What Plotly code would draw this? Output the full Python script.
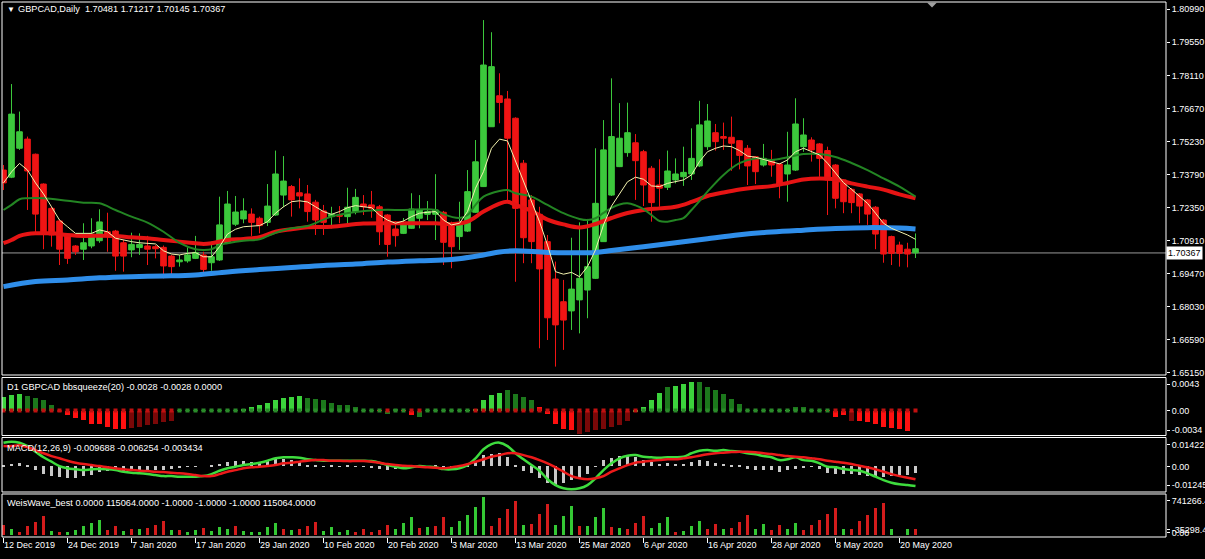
import plotly.graph_objects as go

# ---------------- data ----------------
date_tick_bars = [0, 8, 16, 24, 32, 40, 48, 56, 64, 72, 80, 88, 96, 104, 112]
date_labels = ["12 Dec 2019", "24 Dec 2019", "7 Jan 2020", "17 Jan 2020", "29 Jan 2020",
               "10 Feb 2020", "20 Feb 2020", "3 Mar 2020", "13 Mar 2020", "25 Mar 2020",
               "6 Apr 2020", "16 Apr 2020", "28 Apr 2020", "8 May 2020", "20 May 2020"]

opens = [1.7398, 1.7367, 1.7493, 1.7533, 1.7467, 1.7337, 1.7231, 1.7176, 1.7111, 1.7067,
         1.7053, 1.7067, 1.7090, 1.7129, 1.7132, 1.7081, 1.7050, 1.7060, 1.7067, 1.7064,
         1.7061, 1.7023, 1.6998, 1.7002, 1.7013, 1.7028, 1.6994, 1.7006, 1.7081, 1.7162,
         1.7185, 1.7206, 1.7188, 1.7170, 1.7202, 1.7289, 1.7326, 1.7299, 1.7294, 1.7258,
         1.7220, 1.7195, 1.7202, 1.7195, 1.7217, 1.7250, 1.7246, 1.7238, 1.7202, 1.7141,
         1.7122, 1.7144, 1.7188, 1.7205, 1.7205, 1.7214, 1.7159, 1.7108, 1.7132, 1.7214,
         1.7326, 1.7587, 1.7722, 1.7708, 1.7624, 1.7428, 1.7268, 1.7205, 1.7086, 1.6923,
         1.6824, 1.6784, 1.6832, 1.6875, 1.6926, 1.7086, 1.7289, 1.7413, 1.7474, 1.7517,
         1.7478, 1.7406, 1.7333, 1.7323, 1.7355, 1.7369, 1.7381, 1.7416, 1.7500, 1.7561,
         1.7544, 1.7541, 1.7526, 1.7493, 1.7456, 1.7420, 1.7442, 1.7424, 1.7381, 1.7398,
         1.7500, 1.7529, 1.7512, 1.7483, 1.7420, 1.7355, 1.7314, 1.7294, 1.7268, 1.7236,
         1.7180, 1.7108, 1.7071, 1.7053, 1.7037]
highs = [1.7420, 1.7773, 1.7653, 1.7544, 1.7470, 1.7340, 1.7238, 1.7183, 1.7122, 1.7071,
         1.7166, 1.7188, 1.7227, 1.7212, 1.7137, 1.7093, 1.7125, 1.7122, 1.7111, 1.7071,
         1.7069, 1.7028, 1.7028, 1.7061, 1.7111, 1.7042, 1.7086, 1.7282, 1.7307, 1.7285,
         1.7275, 1.7231, 1.7195, 1.7337, 1.7483, 1.7459, 1.7333, 1.7362, 1.7333, 1.7268,
         1.7246, 1.7238, 1.7241, 1.7321, 1.7316, 1.7289, 1.7307, 1.7246, 1.7206, 1.7176,
         1.7189, 1.7297, 1.7289, 1.7263, 1.7380, 1.7220, 1.7173, 1.7260, 1.7398, 1.7529,
         1.8052, 1.7999, 1.7820, 1.7743, 1.7628, 1.7442, 1.7289, 1.7238, 1.7115, 1.6999,
         1.6919, 1.7103, 1.7170, 1.7185, 1.7493, 1.7616, 1.7798, 1.7690, 1.7692, 1.7555,
         1.7486, 1.7416, 1.7445, 1.7483, 1.7449, 1.7500, 1.7580, 1.7700, 1.7686, 1.7599,
         1.7605, 1.7631, 1.7529, 1.7507, 1.7459, 1.7512, 1.7486, 1.7429, 1.7565, 1.7711,
         1.7624, 1.7541, 1.7516, 1.7500, 1.7424, 1.7359, 1.7320, 1.7298, 1.7272, 1.7241,
         1.7185, 1.7112, 1.7086, 1.7081, 1.71217]
lows = [1.7311, 1.7363, 1.7486, 1.7224, 1.7122, 1.7053, 1.7064, 1.6984, 1.6989, 1.7028,
        1.7006, 1.7057, 1.7081, 1.7042, 1.6959, 1.6955, 1.7018, 1.7028, 1.6984, 1.7013,
        1.6926, 1.6930, 1.6977, 1.6994, 1.7010, 1.6948, 1.6959, 1.7002, 1.7080, 1.7154,
        1.7166, 1.7111, 1.7122, 1.7154, 1.7198, 1.7236, 1.7195, 1.7231, 1.7173, 1.7115,
        1.7115, 1.7144, 1.7166, 1.7156, 1.7205, 1.7202, 1.7190, 1.7071, 1.7020, 1.7064,
        1.7119, 1.7141, 1.7144, 1.7180, 1.7093, 1.6984, 1.6970, 1.7050, 1.7128, 1.7211,
        1.7324, 1.7586, 1.7602, 1.7260, 1.6911, 1.6992, 1.6992, 1.6621, 1.6657, 1.6541,
        1.6614, 1.6701, 1.6686, 1.6752, 1.6923, 1.7085, 1.7285, 1.7411, 1.7456, 1.7268,
        1.7241, 1.7173, 1.7238, 1.7311, 1.7340, 1.7329, 1.7355, 1.7411, 1.7486, 1.7483,
        1.7486, 1.7395, 1.7401, 1.7333, 1.7337, 1.7413, 1.7369, 1.7275, 1.7260, 1.7394,
        1.7478, 1.7435, 1.7369, 1.7202, 1.7231, 1.7210, 1.7210, 1.7166, 1.7159, 1.7053,
        1.6994, 1.6984, 1.6977, 1.6974, 1.70145]
closes = [1.7342, 1.7642, 1.7565, 1.7394, 1.7206, 1.7122, 1.7115, 1.7053, 1.7013, 1.7042,
          1.7081, 1.7119, 1.7172, 1.7115, 1.7023, 1.7023, 1.7074, 1.7074, 1.7053, 1.7055,
          1.6980, 1.6977, 1.7006, 1.7028, 1.7039, 1.6965, 1.7020, 1.7159, 1.7250, 1.7215,
          1.7220, 1.7170, 1.7156, 1.7241, 1.7381, 1.7350, 1.7268, 1.7285, 1.7217, 1.7180,
          1.7170, 1.7205, 1.7197, 1.7236, 1.7279, 1.7238, 1.7231, 1.7129, 1.7074, 1.7112,
          1.7166, 1.7228, 1.7224, 1.7217, 1.7224, 1.7083, 1.7064, 1.7166, 1.7304, 1.7434,
          1.7856, 1.7849, 1.7693, 1.7537, 1.7231, 1.7103, 1.7086, 1.6967, 1.6754, 1.6723,
          1.6744, 1.6879, 1.6926, 1.6977, 1.7253, 1.7486, 1.7544, 1.7537, 1.7561, 1.7439,
          1.7333, 1.7256, 1.7319, 1.7394, 1.7381, 1.7388, 1.7449, 1.7595, 1.7612, 1.7522,
          1.7537, 1.7515, 1.7462, 1.7416, 1.7391, 1.7449, 1.7420, 1.7337, 1.7420, 1.7599,
          1.7551, 1.7486, 1.7449, 1.7355, 1.7275, 1.7260, 1.7256, 1.7241, 1.7206, 1.7119,
          1.7032, 1.7035, 1.7035, 1.7032, 1.7055]
last_price = 1.70367

ma_fast = [1.7342, 1.7390, 1.7427, 1.7398, 1.7342, 1.7294, 1.7238, 1.7180, 1.7151, 1.7122,
           1.7122, 1.7122, 1.7137, 1.7129, 1.7101, 1.7093, 1.7086, 1.7081, 1.7079, 1.7076,
           1.7046, 1.7032, 1.7028, 1.7035, 1.7038, 1.7020, 1.7020, 1.7064, 1.7119, 1.7140,
           1.7151, 1.7154, 1.7156, 1.7173, 1.7210, 1.7238, 1.7260, 1.7264, 1.7259, 1.7238,
           1.7217, 1.7205, 1.7217, 1.7234, 1.7243, 1.7238, 1.7234, 1.7202, 1.7180, 1.7166,
           1.7176, 1.7195, 1.7210, 1.7214, 1.7217, 1.7180, 1.7159, 1.7166, 1.7217, 1.7319,
           1.7391, 1.7493, 1.7533, 1.7525, 1.7435, 1.7347, 1.7260, 1.7173, 1.7071, 1.6955,
           1.6944, 1.6952, 1.6933, 1.6977, 1.7050, 1.7159, 1.7241, 1.7297, 1.7347, 1.7367,
           1.7358, 1.7329, 1.7326, 1.7340, 1.7347, 1.7355, 1.7377, 1.7435, 1.7478, 1.7493,
           1.7503, 1.7500, 1.7483, 1.7459, 1.7454, 1.7445, 1.7435, 1.7425, 1.7442, 1.7478,
           1.7493, 1.7478, 1.7464, 1.7428, 1.7384, 1.7343, 1.7314, 1.7282, 1.7253, 1.7210,
           1.7166, 1.7144, 1.7129, 1.7115, 1.7096]

ma_mid_bars = [0, 1, 2, 3, 5, 8, 10, 12, 14, 16, 18, 20, 22, 24, 25, 26, 27, 28, 30, 32,
               34, 36, 38, 41, 44, 47, 50, 54, 55, 57, 58, 59, 60, 62, 63, 64, 66, 68, 70, 72,
               73, 74, 75, 76, 77, 78, 79, 80, 81, 82, 83, 84, 85, 86, 87, 88, 90, 92, 94, 96,
               98, 100, 102, 104, 106, 108, 110, 112, 114]
ma_mid = [1.7224, 1.7246, 1.7271, 1.7275, 1.7275, 1.7264, 1.7256, 1.7253, 1.7224, 1.7195,
          1.7169, 1.7129, 1.7081, 1.7053, 1.7050, 1.7053, 1.7071, 1.7079, 1.7090, 1.7096,
          1.7125, 1.7144, 1.7154, 1.7195, 1.7215, 1.7224, 1.7224, 1.7224, 1.7206, 1.7189,
          1.7202, 1.7246, 1.7282, 1.7307, 1.7311, 1.7297, 1.7282, 1.7246, 1.7210, 1.7185,
          1.7180, 1.7188, 1.7211, 1.7233, 1.7248, 1.7253, 1.7244, 1.7228, 1.7202, 1.7176,
          1.7173, 1.7180, 1.7189, 1.7224, 1.7263, 1.7304, 1.7377, 1.7428, 1.7449, 1.7442,
          1.7454, 1.7468, 1.7468, 1.7455, 1.7429, 1.7398, 1.7362, 1.7326, 1.7282]

ma_slow_bars = [0, 1, 2, 3, 4, 6, 8, 10, 12, 14, 16, 18, 20, 22, 24, 25, 26, 28, 30, 32,
                34, 36, 38, 41, 45, 50, 54, 56, 58, 60, 62, 63, 64, 66, 68, 70, 72, 74, 76, 78,
                80, 82, 84, 86, 88, 90, 92, 94, 96, 98, 100, 102, 104, 106, 108, 110, 112, 114]
ma_slow = [1.7079, 1.7093, 1.7111, 1.7119, 1.7122, 1.7122, 1.7115, 1.7111, 1.7112, 1.7111,
           1.7105, 1.7101, 1.7093, 1.7086, 1.7079, 1.7076, 1.7079, 1.7093, 1.7098, 1.7105,
           1.7129, 1.7140, 1.7149, 1.7151, 1.7165, 1.7166, 1.7166, 1.7162, 1.7173, 1.7217,
           1.7252, 1.7260, 1.7246, 1.7220, 1.7182, 1.7161, 1.7148, 1.7163, 1.7189, 1.7211,
           1.7224, 1.7231, 1.7238, 1.7259, 1.7285, 1.7300, 1.7313, 1.7322, 1.7328, 1.7342,
           1.7357, 1.7361, 1.7357, 1.7340, 1.7326, 1.7313, 1.7292, 1.7275]

ma_long_bars = [0, 4, 8, 12, 16, 20, 24, 28, 32, 36, 40, 44, 48, 52, 56, 60, 62, 64, 68, 72,
                74, 76, 80, 84, 88, 92, 96, 100, 104, 108, 112, 114]
ma_long = [1.6890, 1.6912, 1.6919, 1.6928, 1.6933, 1.6936, 1.6941, 1.6954, 1.6964, 1.6973,
           1.6982, 1.6988, 1.6997, 1.7003, 1.7008, 1.7028, 1.7041, 1.7046, 1.7039, 1.7038,
           1.7039, 1.7047, 1.7064, 1.7081, 1.7099, 1.7116, 1.7128, 1.7136, 1.7143, 1.7147,
           1.7145, 1.7141]

# bbsqueeze histogram: value and shade (G bright green, g dark green, R bright red, r dark red)
bbsq = [0.0019, 0.0022, 0.00225, 0.0020, 0.0018, 0.00144, 0.00077, -0.0001, -0.00059, -0.0009,
        -0.00126, -0.0017, -0.0018, -0.0021, -0.0024, -0.0024, -0.00225, -0.0022, -0.0019, -0.0017,
        -0.0015, -0.0013, 0.0001, 0.0001, 0.00005, 0.0001, 0.0001, 0.0001, 0.0001, 0.0001,
        0.0002, 0.0006, 0.00085, 0.0011, 0.0015, 0.00175, 0.0019, 0.0020, 0.0018, 0.00167,
        0.00144, 0.0011, 0.00085, 0.00077, 0.00054, 0.0001, 0.0001, 0.0001, -0.00036, 0.0002,
        0.0001, -0.0006, -0.0008, 0.0001, 0.0001, 0.0001, 0.0001, 0.0001, 0.0001, 0.0002,
        0.00144, 0.0021, 0.0025, 0.0028, 0.00225, 0.0019, 0.0015, 0.0006, -0.00045, -0.0017,
        -0.0024, -0.0026, -0.0031, -0.0028, -0.0026, -0.0024, -0.0022, -0.0019, -0.0013, -0.0001,
        0.00054, 0.0015, 0.0024, 0.0033, 0.0034, 0.0037, 0.0039, 0.0039, 0.0033, 0.0028,
        0.00225, 0.00167, 0.0009, 0.0001, 0.0001, 0.0001, 0.0001, 0.0001, 0.0001, 0.00054,
        0.00054, 0.0001, 0.0001, 0.0001, -0.0008, -0.0006, -0.0013, -0.0013, -0.0015, -0.0017,
        -0.0021, -0.00225, -0.0024, -0.0027, -0.0029]
bbsq_shade = ("GGGggggr" + "RRRRRRRR" + "rrrrrr" + "gggggggg" + "GGGGGGGG" + "ggggggggg" + "R" + "g"
              + "g" + "RR" + "gggggg" + "GGGGG" + "gggg" + "RRRRR" + "rrrrrrr"
              + "GGGGgGGG" + "ggggg" + "gggggg" + "G" + "g" + "ggg" + "RR" + "R" + "r" + "RRRRRRR")
bbsq_dot = ("rrrrrrrrrrrrrrrrrrrrrr" + "gggggggggggggggggggggggggg" + "r" + "gg" + "rr" + "gggggg"
            + "rrrrrrrrrrrrrrrrrrrrr" + "gggggggggggggggggggggggg" + "rrrrrrrrrrr")

macd_hist = [0.0008, 0.0013, 0.0017, 0.0002, -0.0017, -0.0037, -0.0050, -0.0053, -0.0058, -0.0058,
             -0.0047, -0.0042, -0.0030, -0.0025, -0.0025, -0.0022, -0.0020, -0.0020, -0.0017, -0.0017,
             -0.0017, -0.0013, -0.0010, -0.0003, -0.0002, 0.0000, 0.0002, 0.0013, 0.0022, 0.0025,
             0.0025, 0.0023, 0.0023, 0.0030, 0.0037, 0.0038, 0.0033, 0.0020, 0.0003, 0.0002,
             -0.0002, 0.0003, -0.0003, 0.0002, -0.0003, -0.0002, -0.0005, -0.0013, -0.0017, -0.0013,
             -0.0013, -0.0010, -0.0008, -0.0003, 0.0002, -0.0003, -0.0013, -0.0003, 0.0003, 0.0025,
             0.0058, 0.0063, 0.0067, 0.0047, 0.0002, -0.0025, -0.0033, -0.0058, -0.0083, -0.0097,
             -0.0083, -0.0070, -0.0058, -0.0037, -0.0002, 0.0033, 0.0042, 0.0053, 0.0058, 0.0047,
             0.0030, 0.0020, 0.0012, 0.0017, 0.0013, 0.0010, 0.0020, 0.0030, 0.0025, 0.0017,
             0.0013, 0.0008, 0.0002, -0.0012, -0.0017, -0.0017, -0.0017, -0.0030, -0.0020, -0.0013,
             -0.0005, -0.0003, -0.0013, -0.0033, -0.0037, -0.0037, -0.0037, -0.0042, -0.0047, -0.0050,
             -0.0053, -0.0047, -0.0042, -0.0042, -0.0034]
macd_main = [0.0120, 0.0125, 0.0120, 0.0103, 0.0075, 0.0047, 0.0025, 0.0003, -0.0008, -0.0013,
             -0.0017, -0.0013, -0.0012, -0.0013, -0.0017, -0.0025, -0.0030, -0.0033, -0.0037, -0.0042,
             -0.0047, -0.0047, -0.0050, -0.0050, -0.0050, -0.0047, -0.0037, -0.0020, -0.0008, 0.0000,
             0.0008, 0.0013, 0.0020, 0.0030, 0.0042, 0.0047, 0.0047, 0.0045, 0.0037, 0.0033,
             0.0030, 0.0030, 0.0030, 0.0030, 0.0030, 0.0030, 0.0028, 0.0020, 0.0008, 0.0000,
             -0.0008, -0.0003, 0.0003, 0.0000, -0.0003, -0.0012, -0.0013, -0.0008, 0.0008, 0.0042,
             0.0087, 0.0113, 0.0120, 0.0103, 0.0067, 0.0037, 0.0008, -0.0020, -0.0063, -0.0092,
             -0.0108, -0.0113, -0.0108, -0.0092, -0.0058, -0.0017, 0.0017, 0.0042, 0.0055, 0.0058,
             0.0050, 0.0047, 0.0045, 0.0047, 0.0047, 0.0050, 0.0067, 0.0080, 0.0083, 0.0080,
             0.0083, 0.0078, 0.0075, 0.0067, 0.0062, 0.0053, 0.0047, 0.0033, 0.0037, 0.0047,
             0.0033, 0.0030, 0.0017, 0.0000, -0.0003, -0.0012, -0.0017, -0.0020, -0.0033, -0.0050,
             -0.0067, -0.0080, -0.0088, -0.0092, -0.0097]
macd_signal = [0.0103, 0.0103, 0.0107, 0.0097, 0.0083, 0.0067, 0.0053, 0.0042, 0.0030, 0.0020,
               0.0013, 0.0008, 0.0003, -0.0003, -0.0008, -0.0013, -0.0017, -0.0020, -0.0022, -0.0025,
               -0.0027, -0.0030, -0.0033, -0.0037, -0.0042, -0.0047, -0.0047, -0.0037, -0.0025, -0.0017,
               -0.0008, -0.0003, 0.0000, 0.0003, 0.0008, 0.0017, 0.0020, 0.0025, 0.0030, 0.0033,
               0.0033, 0.0030, 0.0030, 0.0028, 0.0028, 0.0028, 0.0025, 0.0020, 0.0013, 0.0008,
               0.0005, 0.0003, 0.0000, -0.0003, -0.0005, -0.0008, -0.0003, 0.0003, 0.0013, 0.0025,
               0.0037, 0.0050, 0.0058, 0.0067, 0.0067, 0.0058, 0.0047, 0.0033, 0.0017, -0.0003,
               -0.0025, -0.0047, -0.0058, -0.0063, -0.0058, -0.0047, -0.0025, -0.0008, 0.0008, 0.0020,
               0.0025, 0.0030, 0.0033, 0.0037, 0.0037, 0.0042, 0.0047, 0.0055, 0.0062, 0.0067,
               0.0070, 0.0073, 0.0075, 0.0075, 0.0072, 0.0067, 0.0063, 0.0058, 0.0053, 0.0050,
               0.0047, 0.0042, 0.0037, 0.0030, 0.0025, 0.0020, 0.0013, 0.0005, -0.0003, -0.0013,
               -0.0025, -0.0037, -0.0047, -0.0055, -0.0063]

weis = [180000, 102000, 60000, 162000, 240000, 342000, 78000, 60000, 60000, 90000,
        162000, 210000, 270000, 90000, 162000, 72000, 102000, 102000, 120000, 180000,
        258000, 90000, 90000, 60000, 90000, 120000, 78000, 150000, 102000, 162000,
        72000, 60000, 60000, 150000, 222000, 102000, 90000, 102000, 162000, 228000,
        72000, 138000, 60000, 90000, 60000, 102000, 60000, 90000, 180000, 102000,
        222000, 330000, 132000, 150000, 162000, 318000, 150000, 258000, 360000, 510000,
        690000, 162000, 312000, 462000, 618000, 180000, 192000, 372000, 552000, 180000,
        342000, 522000, 162000, 162000, 330000, 480000, 150000, 120000, 114000, 222000,
        342000, 120000, 222000, 330000, 48000, 66000, 162000, 252000, 108000, 198000,
        102000, 120000, 240000, 360000, 102000, 198000, 90000, 180000, 102000, 222000,
        90000, 180000, 270000, 378000, 480000, 102000, 102000, 252000, 360000, 492000,
        582000, 102000, 0, 102000, 115064]
weis_dir = ("RGRRRRGRGGGGGRRGRGRRRGRGGRGGGRGGGGGRGRRRGGGGRRRRRG"
            "GGRGRRGGGGGRRRRGRRRGGGRGGGRGRRRGGGRGGGRRGRRRGGRRGG"
            "RRRRRGRRRRRGRGR")

# ---------------- styling ----------------
BG = "#000000"
FG = "#FFFFFF"
UP = "#3CC83C"
DN = "#F01414"
FONT = "Liberation Sans, Arial, sans-serif"
shade_color = {"G": "#3CD23C", "g": "#1C781C", "R": "#FF1010", "r": "#7A0808"}
dot_color = {"g": "#2A8A2A", "r": "#C01010"}
weis_color = {"G": "#34C834", "R": "#D41C1C"}

n = len(opens)
bars = list(range(n))

fig = go.Figure()

# main pane
fig.add_trace(go.Candlestick(
    x=bars, open=opens, high=highs, low=lows, close=closes,
    xaxis="x", yaxis="y", whiskerwidth=0,
    increasing=dict(line=dict(color=UP, width=1), fillcolor=UP),
    decreasing=dict(line=dict(color=DN, width=1), fillcolor=DN),
    hoverinfo="skip", showlegend=False))
fig.add_trace(go.Scatter(x=ma_long_bars, y=ma_long, mode="lines", xaxis="x", yaxis="y",
                         line=dict(color="#2F8EEA", width=5, shape="spline"), hoverinfo="skip", showlegend=False))
fig.add_trace(go.Scatter(x=ma_slow_bars, y=ma_slow, mode="lines", xaxis="x", yaxis="y",
                         line=dict(color="#E61414", width=4, shape="spline"), hoverinfo="skip", showlegend=False))
fig.add_trace(go.Scatter(x=ma_mid_bars, y=ma_mid, mode="lines", xaxis="x", yaxis="y",
                         line=dict(color="#238523", width=2, shape="spline"), hoverinfo="skip", showlegend=False))
fig.add_trace(go.Scatter(x=bars, y=ma_fast, mode="lines", xaxis="x", yaxis="y",
                         line=dict(color="#F4F4B0", width=1), hoverinfo="skip", showlegend=False))

# bbsqueeze pane
fig.add_trace(go.Bar(x=bars, y=bbsq, xaxis="x2", yaxis="y2", width=0.6,
                     marker=dict(color=[shade_color[c] for c in bbsq_shade], line=dict(width=0)),
                     hoverinfo="skip", showlegend=False))
fig.add_trace(go.Scatter(x=bars, y=[0.0] * n, mode="markers", xaxis="x2", yaxis="y2",
                         marker=dict(symbol="square", size=4, color=[dot_color[c] for c in bbsq_dot]),
                         hoverinfo="skip", showlegend=False))

# MACD pane
fig.add_trace(go.Bar(x=bars, y=macd_hist, xaxis="x3", yaxis="y3", width=0.38,
                     marker=dict(color="#C8C8C8", line=dict(width=0)), hoverinfo="skip", showlegend=False))
fig.add_trace(go.Scatter(x=bars, y=macd_main, mode="lines", xaxis="x3", yaxis="y3",
                         line=dict(color="#3EDC3E", width=2.5, shape="spline"), hoverinfo="skip", showlegend=False))
fig.add_trace(go.Scatter(x=bars, y=macd_signal, mode="lines", xaxis="x3", yaxis="y3",
                         line=dict(color="#EC1A1A", width=2.5, shape="spline"), hoverinfo="skip", showlegend=False))

# WeisWave pane
fig.add_trace(go.Bar(x=bars, y=weis, xaxis="x4", yaxis="y4", width=0.4,
                     marker=dict(color=[weis_color[c] for c in weis_dir], line=dict(width=0)),
                     hoverinfo="skip", showlegend=False))

# ---------------- layout ----------------
XR = [-0.1875, 145.3125]
tickfont = dict(family=FONT, size=9, color=FG)
dom_main = [0.3028, 1.0]
dom_bbsq = [0.1897, 0.2981]
dom_macd = [0.0841, 0.1860]
dom_weis = [0.0, 0.0804]

def xax(anchor, show):
    d = dict(domain=[0, 1], range=XR, anchor=anchor, showgrid=False, zeroline=False,
             showline=False, fixedrange=True, automargin=False)
    if show:
        d.update(tickmode="array", tickvals=date_tick_bars, ticktext=date_labels,
                 ticks="outside", ticklen=5, tickcolor=FG, tickwidth=1,
                 ticklabelposition="outside right", ticklabelstandoff=-1,
                 tickfont=tickfont, showticklabels=True)
    else:
        d.update(showticklabels=False, ticks="")
    return d

def yax(domain, rng, vals, texts, anchor):
    return dict(domain=domain, range=rng, side="right", anchor=anchor, showgrid=False,
                zeroline=False, showline=False, tickmode="array", tickvals=vals, ticktext=texts,
                ticks="outside", ticklen=3, tickcolor=FG, tickwidth=1, tickfont=tickfont,
                ticklabelstandoff=0, fixedrange=True, automargin=False)

main_ticks = [1.8099, 1.7955, 1.7811, 1.7667, 1.7523, 1.7379, 1.7235, 1.7091,
              1.6947, 1.6803, 1.6659, 1.6515]

fig.update_layout(
    template="none",
    width=1205, height=559,
    paper_bgcolor=BG, plot_bgcolor=BG,
    margin=dict(l=2, r=39, t=2, b=22, autoexpand=False),
    showlegend=False,
    boxgap=0.3, boxgroupgap=0.0, bargap=0,
    xaxis=dict(xax("y", False), rangeslider=dict(visible=False)),
    xaxis2=xax("y2", False),
    xaxis3=xax("y3", False),
    xaxis4=xax("y4", True),
    yaxis=yax(dom_main, [1.65045, 1.81308], main_ticks, ["%.5f" % v for v in main_ticks], "x"),
    yaxis2=yax(dom_bbsq, [-0.00338, 0.00446], [0.00354, 0.0, -0.00264],
               ["0.0043", "0.00", "-0.0034"], "x2"),
    yaxis3=yax(dom_macd, [-0.01265, 0.0146], [0.01085, 0.0, -0.0093],
               ["0.01422", "0.00", "-0.01245"], "x3"),
    yaxis4=yax(dom_weis, [-36000, 738000], [612000, 90000, 36000],
               ["741266.4", "-35298.4", "0.00"], "x4"),
)

shapes = []
# current price line
shapes.append(dict(type="line", xref="paper", yref="y", x0=0, x1=1, y0=last_price, y1=last_price,
                   line=dict(color="#9A9A9A", width=1), layer="below"))
# pane frames
for dom in (dom_main, dom_bbsq, dom_macd, dom_weis):
    shapes.append(dict(type="rect", xref="paper", yref="paper", x0=0, x1=1, y0=dom[0], y1=dom[1],
                       line=dict(color=FG, width=1), fillcolor="rgba(0,0,0,0)", layer="above"))
# chart-shift marker
shapes.append(dict(type="path", xref="paper", yref="paper",
                   path="M 0.7947,0.9990 L 0.8032,0.9990 L 0.7990,0.9897 Z",
                   fillcolor="#A0A0A0", line=dict(color="#A0A0A0", width=0)))
fig.update_layout(shapes=shapes)

def note(text, x, y, size=9.2, color=FG, **kw):
    d = dict(text=text, xref="paper", yref="paper", x=x, y=y, xanchor="left", yanchor="middle",
             showarrow=False, font=dict(family=FONT, size=size, color=color))
    d.update(kw)
    return d

annotations = [
    note("▼", 0.0030, 0.9860, size=8),
    note("GBPCAD,Daily  1.70481 1.71217 1.70145 1.70367", 0.0120, 0.9860),
    note("D1 GBPCAD bbsqueeze(20) -0.0028 -0.0028 0.0000", 0.0030, 0.2809),
    note("MACD(12,26,9) -0.009688 -0.006254 -0.003434", 0.0030, 0.1669),
    note("WeisWave_best 0.0000 115064.0000 -1.0000 -1.0000 -1.0000 115064.0000", 0.0030, 0.0630),
    dict(text="1.70367", xref="paper", yref="y", x=1, y=last_price, xanchor="left", yanchor="middle",
         xshift=0, showarrow=False, bgcolor="#FFFFFF", borderpad=1,
         font=dict(family=FONT, size=9, color="#000000")),
]
fig.update_layout(annotations=annotations)

fig.write_html("out.html", config={"displayModeBar": False},
               post_script="document.body.style.margin='0px';document.body.style.overflow='hidden';")
